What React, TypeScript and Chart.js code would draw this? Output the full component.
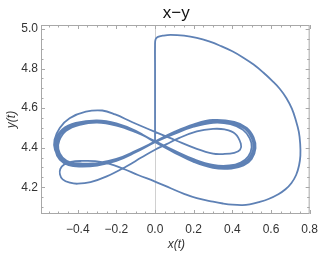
import React, { useEffect, useRef } from "react";
import { Chart, registerables } from "chart.js";

Chart.register(...registerables);

// Trajectory pieces (x(t), y(t)), in drawing order
const launchX = [0, 0, 0, 0, 0.003, 0.015, 0.04, 0.08, 0.15, 0.216, 0.28, 0.34, 0.4, 0.455, 0.51, 0.56, 0.605, 0.645, 0.68, 0.708, 0.728, 0.744, 0.751, 0.752, 0.745, 0.73, 0.706, 0.675, 0.638, 0.587, 0.537, 0.49, 0.453, 0.4, 0.351, 0.3, 0.216, 0.15, 0.081, 0, -0.088, -0.155, -0.24, -0.31, -0.38];
const launchY = [4.43, 4.6, 4.8, 4.92, 4.948, 4.96, 4.966, 4.97, 4.966, 4.955, 4.937, 4.914, 4.887, 4.856, 4.82, 4.78, 4.739, 4.698, 4.65, 4.597, 4.54, 4.48, 4.42, 4.36, 4.31, 4.262, 4.222, 4.19, 4.165, 4.141, 4.125, 4.114, 4.11, 4.112, 4.118, 4.127, 4.145, 4.167, 4.195, 4.229, 4.262, 4.29, 4.32, 4.332, 4.333];

const smallLoopX = [-0.435, -0.47, -0.49, -0.492, -0.478, -0.44, -0.4, -0.334, -0.25, -0.149, -0.071, 0];
const smallLoopY = [4.328, 4.315, 4.293, 4.265, 4.24, 4.223, 4.218, 4.226, 4.255, 4.305, 4.35, 4.39];

const wideLoopX = [0.06, 0.115, 0.216, 0.3, 0.36, 0.415, 0.444, 0.44, 0.41, 0.351, 0.3, 0.216, 0.1, 0, -0.12, -0.206, -0.273, -0.358, -0.442, -0.493, -0.52, -0.518, -0.495, -0.455, -0.39, -0.3, -0.2, -0.1];
const wideLoopY = [4.418, 4.445, 4.482, 4.495, 4.492, 4.47, 4.42, 4.39, 4.374, 4.368, 4.37, 4.394, 4.44, 4.48, 4.53, 4.568, 4.588, 4.582, 4.549, 4.5, 4.44, 4.39, 4.352, 4.327, 4.315, 4.318, 4.34, 4.383];

const band1X = [0, 0.1, 0.2, 0.3, 0.4, 0.465, 0.5, 0.51, 0.49, 0.45, 0.39, 0.3, 0.2, 0.1, 0, -0.1, -0.2, -0.3, -0.4, -0.47, -0.503, -0.507, -0.485, -0.44, -0.38, -0.3, -0.2, -0.1];
const band1Y = [4.43, 4.475, 4.512, 4.533, 4.525, 4.495, 4.45, 4.4, 4.35, 4.318, 4.302, 4.305, 4.335, 4.38, 4.43, 4.482, 4.518, 4.533, 4.52, 4.488, 4.44, 4.39, 4.345, 4.318, 4.312, 4.315, 4.338, 4.38];

const band2X = [0, 0.1, 0.2, 0.3, 0.41, 0.475, 0.51, 0.52, 0.5, 0.458, 0.395, 0.3, 0.2, 0.1, 0, -0.1, -0.2, -0.3, -0.41, -0.48, -0.512, -0.516, -0.493, -0.447, -0.385, -0.3, -0.2, -0.1];
const band2Y = [4.432, 4.48, 4.518, 4.54, 4.53, 4.5, 4.452, 4.398, 4.343, 4.31, 4.295, 4.298, 4.328, 4.375, 4.428, 4.485, 4.523, 4.538, 4.525, 4.492, 4.442, 4.388, 4.34, 4.312, 4.305, 4.31, 4.333, 4.377];

const band3X = [0, 0.1, 0.2, 0.3, 0.39, 0.455, 0.49, 0.5, 0.482, 0.443, 0.385, 0.3, 0.2, 0.1, 0, -0.1, -0.2, -0.3, -0.39, -0.46, -0.495, -0.5, -0.478, -0.435, -0.375, -0.3, -0.2, -0.1];
const band3Y = [4.428, 4.47, 4.506, 4.526, 4.519, 4.49, 4.447, 4.402, 4.356, 4.325, 4.31, 4.313, 4.342, 4.385, 4.433, 4.478, 4.512, 4.527, 4.515, 4.485, 4.437, 4.392, 4.35, 4.325, 4.32, 4.322, 4.343, 4.384];

const band4X = [0, 0.1, 0.2, 0.3, 0.405, 0.47, 0.505, 0.515, 0.495, 0.454, 0.392, 0.3, 0.2, 0.1, 0, -0.1, -0.2, -0.3, -0.405, -0.475, -0.508, -0.512, -0.49, -0.444, -0.382, -0.3, -0.2, -0.1, 0];
const band4Y = [4.431, 4.478, 4.515, 4.537, 4.528, 4.498, 4.45, 4.399, 4.347, 4.314, 4.298, 4.301, 4.331, 4.377, 4.43, 4.484, 4.521, 4.536, 4.523, 4.49, 4.44, 4.389, 4.342, 4.315, 4.308, 4.312, 4.335, 4.379, 4.43];

const xTicks = [-0.4, -0.2, 0, 0.2, 0.4, 0.6, 0.8];
const yTicks = [4.2, 4.4, 4.6, 4.8, 5.0];
const xRange = [-0.59, 0.8];
const yRange = [4.065, 5.02];

const titleText = "x\u2212y";
const xLabel = "x(t)";
const yLabel = "y(t)";

const FONT = "'Liberation Sans', Arial, sans-serif";

function pairs(xs: number[], ys: number[]) {
  return xs.map((x, i) => ({ x, y: ys[i] }));
}

function fmt(v: number) {
  const s = Math.abs(v).toFixed(1);
  return v < -1e-9 ? "\u2212" + s : s;
}

const framePlugin = {
  id: "framePlugin",
  beforeDatasetsDraw(chart: any) {
    const { ctx, chartArea } = chart;
    const xs = chart.scales.x;
    const px = xs.getPixelForValue(0);
    ctx.save();
    ctx.strokeStyle = "#d0d0d0";
    ctx.lineWidth = 1;
    ctx.beginPath();
    ctx.moveTo(Math.round(px) + 0.5, chartArea.top);
    ctx.lineTo(Math.round(px) + 0.5, chartArea.bottom);
    ctx.stroke();
    ctx.restore();
  },
  afterDraw(chart: any) {
    const { ctx, chartArea } = chart;
    const { left, right, top, bottom } = chartArea;
    const xs = chart.scales.x;
    const ys = chart.scales.y;
    ctx.save();
    ctx.strokeStyle = "#a8a8a8";
    ctx.lineWidth = 1;
    ctx.strokeRect(left + 0.5, top + 0.5, right - left - 1, bottom - top - 1);
    ctx.beginPath();
    for (let i = -12; i <= 16; i++) {
      const v = i * 0.05;
      if (v < xRange[0] || v > xRange[1] + 1e-9) continue;
      const major = i % 4 === 0;
      const len = major ? 4 : 2.5;
      const p = Math.round(xs.getPixelForValue(v)) + 0.5;
      ctx.moveTo(p, bottom);
      ctx.lineTo(p, bottom - len);
      ctx.moveTo(p, top);
      ctx.lineTo(p, top + len);
    }
    for (let i = 81; i <= 100; i++) {
      const v = i * 0.05;
      if (v < yRange[0] || v > yRange[1]) continue;
      const major = i % 4 === 0;
      const len = major ? 4 : 2.5;
      const p = Math.round(ys.getPixelForValue(v)) + 0.5;
      ctx.moveTo(left, p);
      ctx.lineTo(left + len, p);
      ctx.moveTo(right, p);
      ctx.lineTo(right - len, p);
    }
    ctx.stroke();

    const cx = (left + right) / 2;
    ctx.fillStyle = "#111";
    ctx.textAlign = "center";
    ctx.textBaseline = "alphabetic";
    ctx.font = `17px ${FONT}`;
    ctx.fillText(titleText, cx + 1, 18);

    ctx.fillStyle = "#333";
    ctx.font = `italic 12px ${FONT}`;
    ctx.textBaseline = "middle";
    ctx.fillText(xLabel, cx + 1, 245);
    ctx.translate(12, (top + bottom) / 2);
    ctx.rotate(-Math.PI / 2);
    ctx.fillText(yLabel, 0, 0);
    ctx.restore();
  },
};

export default function App() {
  const ref = useRef<HTMLCanvasElement>(null);
  useEffect(() => {
    if (!ref.current) return;
    const data = [
      ...pairs(launchX, launchY),
      ...pairs(smallLoopX, smallLoopY),
      ...pairs(wideLoopX, wideLoopY),
      ...pairs(band1X, band1Y),
      ...pairs(band2X, band2Y),
      ...pairs(band3X, band3Y),
      ...pairs(band4X, band4Y),
    ];
    const chart = new Chart(ref.current, {
      type: "scatter",
      data: {
        datasets: [
          {
            data,
            showLine: true,
            borderColor: "#5E81B5",
            borderWidth: 1.8,
            pointRadius: 0,
            tension: 0.4,
            fill: false,
          },
        ],
      },
      options: {
        animation: false,
        responsive: false,
        layout: { padding: { left: 0, right: 10, top: 25, bottom: 0 } },
        plugins: { legend: { display: false }, tooltip: { enabled: false }, title: { display: false } },
        scales: {
          x: {
            type: "linear",
            min: xRange[0],
            max: xRange[1],
            grid: { display: false, drawTicks: false },
            border: { display: false },
            afterBuildTicks: (s: any) => {
              s.ticks = xTicks.map((v) => ({ value: v }));
            },
            afterFit: (s: any) => {
              s.height = 39;
            },
            ticks: {
              autoSkip: false,
              maxRotation: 0,
              padding: 8,
              color: "#333",
              font: { family: FONT, size: 12 },
              callback: (v: any) => fmt(Number(v)),
            },
          },
          y: {
            type: "linear",
            min: yRange[0],
            max: yRange[1],
            grid: { display: false, drawTicks: false },
            border: { display: false },
            afterBuildTicks: (s: any) => {
              s.ticks = yTicks.map((v) => ({ value: v }));
            },
            afterFit: (s: any) => {
              s.width = 41;
            },
            ticks: {
              autoSkip: false,
              padding: 3,
              color: "#333",
              font: { family: FONT, size: 12 },
              callback: (v: any) => fmt(Number(v)),
            },
          },
        },
      } as any,
      plugins: [framePlugin],
    });
    return () => chart.destroy();
  }, []);
  return (
    <div style={{ position: "fixed", left: 0, top: 0, width: 326, height: 253, background: "#fff" }}>
      <canvas ref={ref} width={326} height={253} style={{ display: "block" }} />
    </div>
  );
}
